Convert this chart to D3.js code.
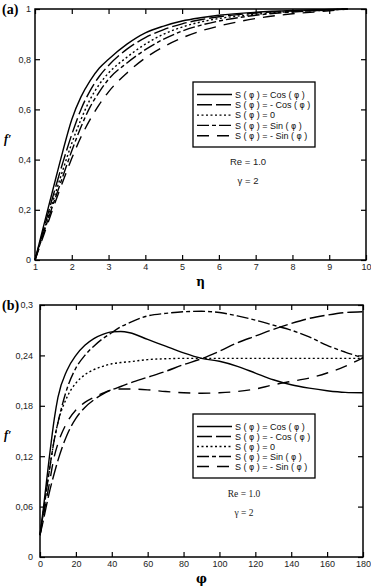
<!DOCTYPE html>
<html>
<head>
    <meta charset="utf-8">
    <title>Velocity profiles</title>
    <script type="text/javascript" src="https://cdn.jsdelivr.net/npm/d3@7"></script>
    <style>
        body { margin: 0; background: #fff; }
        svg { display: block; }
        .tick-label { font-family: "Liberation Sans", Arial, sans-serif; font-size: 9px; fill: #222; }
        .legend-text { font-family: "Liberation Sans", Arial, sans-serif; font-size: 9px; fill: #111; }
        .greek { font-family: "DejaVu Sans", sans-serif; font-size: 8px; }
    </style>
</head>

<body>

<script type="text/javascript">
// ---- data ----
var seriesNames = ["S ( \u03c6 ) = Cos ( \u03c6 )", "S ( \u03c6 ) = - Cos ( \u03c6 )", "S ( \u03c6 ) = 0",
    "S ( \u03c6 ) = Sin ( \u03c6 )", "S ( \u03c6 ) = - Sin ( \u03c6 )"];

// panel (a): f' against eta
var etaValues = [1, 1.25, 1.5, 1.75, 2, 2.25, 2.5, 2.75, 3, 3.5, 4, 4.5, 5, 5.5, 6, 7, 8, 9, 9.5];
var aCos    = [0, 0.145, 0.288, 0.43, 0.56, 0.65, 0.715, 0.765, 0.80, 0.86, 0.905, 0.932, 0.952, 0.965, 0.975, 0.987, 0.994, 0.998, 1.0];
var aMinCos = [0, 0.13, 0.26, 0.385, 0.50, 0.60, 0.675, 0.732, 0.775, 0.84, 0.886, 0.918, 0.941, 0.957, 0.969, 0.984, 0.992, 0.997, 1.0];
var aZero   = [0, 0.12, 0.24, 0.355, 0.465, 0.56, 0.64, 0.70, 0.745, 0.808, 0.86, 0.90, 0.928, 0.948, 0.962, 0.979, 0.99, 0.996, 1.0];
var aSin    = [0, 0.115, 0.225, 0.33, 0.435, 0.53, 0.61, 0.67, 0.72, 0.785, 0.838, 0.88, 0.912, 0.935, 0.952, 0.975, 0.988, 0.996, 1.0];
var aMinSin = [0, 0.105, 0.21, 0.31, 0.405, 0.49, 0.56, 0.62, 0.67, 0.745, 0.805, 0.85, 0.885, 0.912, 0.932, 0.962, 0.981, 0.993, 1.0];

// panel (b): f' against phi
var phiValues = [0, 2, 5, 8, 10, 15, 20, 25, 30, 35, 40, 45, 50, 60, 70, 80, 90, 100, 110, 120, 130, 140, 150, 160, 170, 180];
var bCos    = [0.026, 0.06, 0.115, 0.165, 0.19, 0.222, 0.24, 0.252, 0.26, 0.265, 0.268, 0.2685, 0.267, 0.259, 0.251, 0.243, 0.2365, 0.233, 0.227, 0.219, 0.211, 0.205, 0.201, 0.198, 0.196, 0.1955];
var bMinCos = [0.026, 0.045, 0.075, 0.10, 0.115, 0.145, 0.165, 0.178, 0.187, 0.194, 0.199, 0.203, 0.207, 0.214, 0.221, 0.229, 0.236, 0.245, 0.255, 0.263, 0.271, 0.278, 0.284, 0.288, 0.291, 0.292];
var bZero   = [0.026, 0.055, 0.10, 0.14, 0.16, 0.19, 0.207, 0.217, 0.223, 0.227, 0.230, 0.2315, 0.2325, 0.235, 0.236, 0.2365, 0.2365, 0.2365, 0.2365, 0.2365, 0.2365, 0.2365, 0.2365, 0.2365, 0.2365, 0.2365];
var bSin    = [0.026, 0.055, 0.1, 0.14, 0.16, 0.2, 0.225, 0.24, 0.251, 0.26, 0.267, 0.274, 0.279, 0.287, 0.290, 0.292, 0.2925, 0.291, 0.287, 0.282, 0.276, 0.27, 0.262, 0.252, 0.244, 0.237];
var bMinSin = [0.026, 0.05, 0.085, 0.12, 0.135, 0.16, 0.175, 0.184, 0.19, 0.195, 0.199, 0.2, 0.2, 0.199, 0.197, 0.1955, 0.195, 0.1955, 0.197, 0.2, 0.205, 0.209, 0.213, 0.219, 0.227, 0.237];

var aTicksX = [1, 2, 3, 4, 5, 6, 7, 8, 9, 10];
var aTicksY = [0, 0.2, 0.4, 0.6, 0.8, 1];
var bTicksX = [0, 20, 40, 60, 80, 100, 120, 140, 160, 180];
var bTicksY = [0, 0.06, 0.12, 0.18, 0.24, 0.3];

// line styles in series order
var dashes = [null, "15,4", "2,2.5", "12,3,4,3", "12,8"];

var svg = d3.select("body").append("svg")
        .attr("width", 371)
        .attr("height", 587);

function fmt(v) {
    return String(+v.toFixed(2)).replace(".", ",");
}

// write a label, putting the greek letter into a font that surely has it
function greekText(sel, str) {
    str.split("\u03c6").forEach(function (part, i) {
        if (i > 0) sel.append("tspan").attr("class", "greek").text("\u03c6");
        sel.append("tspan").text(part);
    });
}

function panel(opt) {
    var x = d3.scaleLinear().domain(opt.xDomain).range([opt.left, opt.right]);
    var y = d3.scaleLinear().domain(opt.yDomain).range([opt.bottom, opt.top]);
    var g = svg.append("g");
    var tk = 5;

    // curves
    var line = d3.line()
            .x(function (d) { return x(d[0]); })
            .y(function (d) { return y(d[1]); })
            .curve(d3.curveMonotoneX);

    opt.series.forEach(function (vals, i) {
        var pts = opt.xs.map(function (xv, j) { return [xv, vals[j]]; });
        g.append("path")
                .attr("d", line(pts))
                .attr("fill", "none")
                .attr("stroke", "#000")
                .attr("stroke-width", 1.4)
                .attr("stroke-dasharray", dashes[i]);
    });

    // axes, ticks inward on all four sides
    var bottomAxis = d3.axisBottom(x).tickValues(opt.xTicks).tickSizeInner(-tk).tickSizeOuter(0).tickPadding(4)
            .tickFormat(function (d) { return d; });
    var topAxis = d3.axisTop(x).tickValues(opt.xTicks).tickSizeInner(-tk).tickSizeOuter(0).tickFormat("");
    var leftAxis = d3.axisLeft(y).tickValues(opt.yTicks).tickSizeInner(-tk).tickSizeOuter(0).tickPadding(opt.yPad)
            .tickFormat(fmt);
    var rightAxis = d3.axisRight(y).tickValues(opt.yTicks).tickSizeInner(-tk).tickSizeOuter(0).tickFormat("");

    g.append("g").attr("transform", "translate(0," + opt.bottom + ")").call(bottomAxis);
    g.append("g").attr("transform", "translate(0," + opt.top + ")").call(topAxis);
    g.append("g").attr("transform", "translate(" + opt.left + ",0)").call(leftAxis);
    g.append("g").attr("transform", "translate(" + opt.right + ",0)").call(rightAxis);

    g.selectAll(".domain").remove();
    g.selectAll(".tick line").attr("stroke", "#000").attr("stroke-width", 1.2);
    g.selectAll(".tick text").attr("class", "tick-label").attr("fill", null);

    g.append("rect")
            .attr("x", opt.left).attr("y", opt.top)
            .attr("width", opt.right - opt.left).attr("height", opt.bottom - opt.top)
            .attr("fill", "none").attr("stroke", "#000").attr("stroke-width", 1.5);

    // legend
    var lg = g.append("g");
    lg.append("rect")
            .attr("x", opt.legend.x).attr("y", opt.legend.y)
            .attr("width", 122).attr("height", opt.legend.h)
            .attr("fill", "#fff").attr("stroke", "#000").attr("stroke-width", 1.3);
    seriesNames.forEach(function (name, i) {
        var ry = opt.legend.y + 12.5 + i * opt.legend.step;
        lg.append("line")
                .attr("x1", opt.legend.x + 4).attr("x2", opt.legend.x + 39)
                .attr("y1", ry).attr("y2", ry)
                .attr("stroke", "#000").attr("stroke-width", 1.4)
                .attr("stroke-dasharray", dashes[i]);
        var t = lg.append("text")
                .attr("class", "legend-text")
                .attr("x", opt.legend.x + 42).attr("y", ry + 3.2);
        greekText(t, name);
    });

    // parameter notes
    var noteFont = opt.serifNotes ? "'Liberation Serif', 'Times New Roman', serif" : "'Liberation Sans', Arial, sans-serif";
    g.append("text").attr("x", opt.note.x).attr("y", opt.note.y)
            .attr("text-anchor", "middle").attr("font-family", noteFont).attr("font-size", 9.5).attr("fill", "#222")
            .text("Re = 1.0");
    g.append("text").attr("x", opt.note.x).attr("y", opt.note.y + 19)
            .attr("text-anchor", "middle").attr("font-family", noteFont).attr("font-size", 9.5).attr("fill", "#222")
            .text("\u03b3 = 2");

    // axis titles and panel tag
    g.append("text").attr("x", (opt.left + opt.right) / 2).attr("y", opt.bottom + 26)
            .attr("text-anchor", "middle").attr("font-family", "'DejaVu Serif', serif")
            .attr("font-size", 12).attr("font-weight", "bold")
            .text(opt.xTitle);
    g.append("text").attr("x", 4).attr("y", (opt.top + opt.bottom) / 2 + 8)
            .attr("font-family", "'Liberation Serif', serif").attr("font-style", "italic")
            .attr("font-size", 12).attr("font-weight", "bold")
            .text("f\u2032");
    g.append("text").attr("x", 2).attr("y", opt.top + 5)
            .attr("font-family", "'Liberation Serif', serif").attr("font-weight", "bold")
            .attr("font-size", 14)
            .text(opt.tag);
}

panel({
    left: 35, right: 366, top: 9, bottom: 260,
    xDomain: [1, 10], yDomain: [0, 1],
    xs: etaValues, series: [aCos, aMinCos, aZero, aSin, aMinSin],
    xTicks: aTicksX, yTicks: aTicksY, yPad: 4,
    legend: {x: 193, y: 82, h: 65, step: 10.3},
    note: {x: 248, y: 165}, serifNotes: false,
    xTitle: "\u03b7", tag: "(a)"
});

panel({
    left: 40, right: 363, top: 305, bottom: 557,
    xDomain: [0, 180], yDomain: [0, 0.3],
    xs: phiValues, series: [bCos, bMinCos, bZero, bSin, bMinSin],
    xTicks: bTicksX, yTicks: bTicksY, yPad: 7,
    legend: {x: 193, y: 414, h: 64, step: 10},
    note: {x: 244, y: 497}, serifNotes: true,
    xTitle: "\u03c6", tag: "(b)"
});
</script>

</body>

</html>
